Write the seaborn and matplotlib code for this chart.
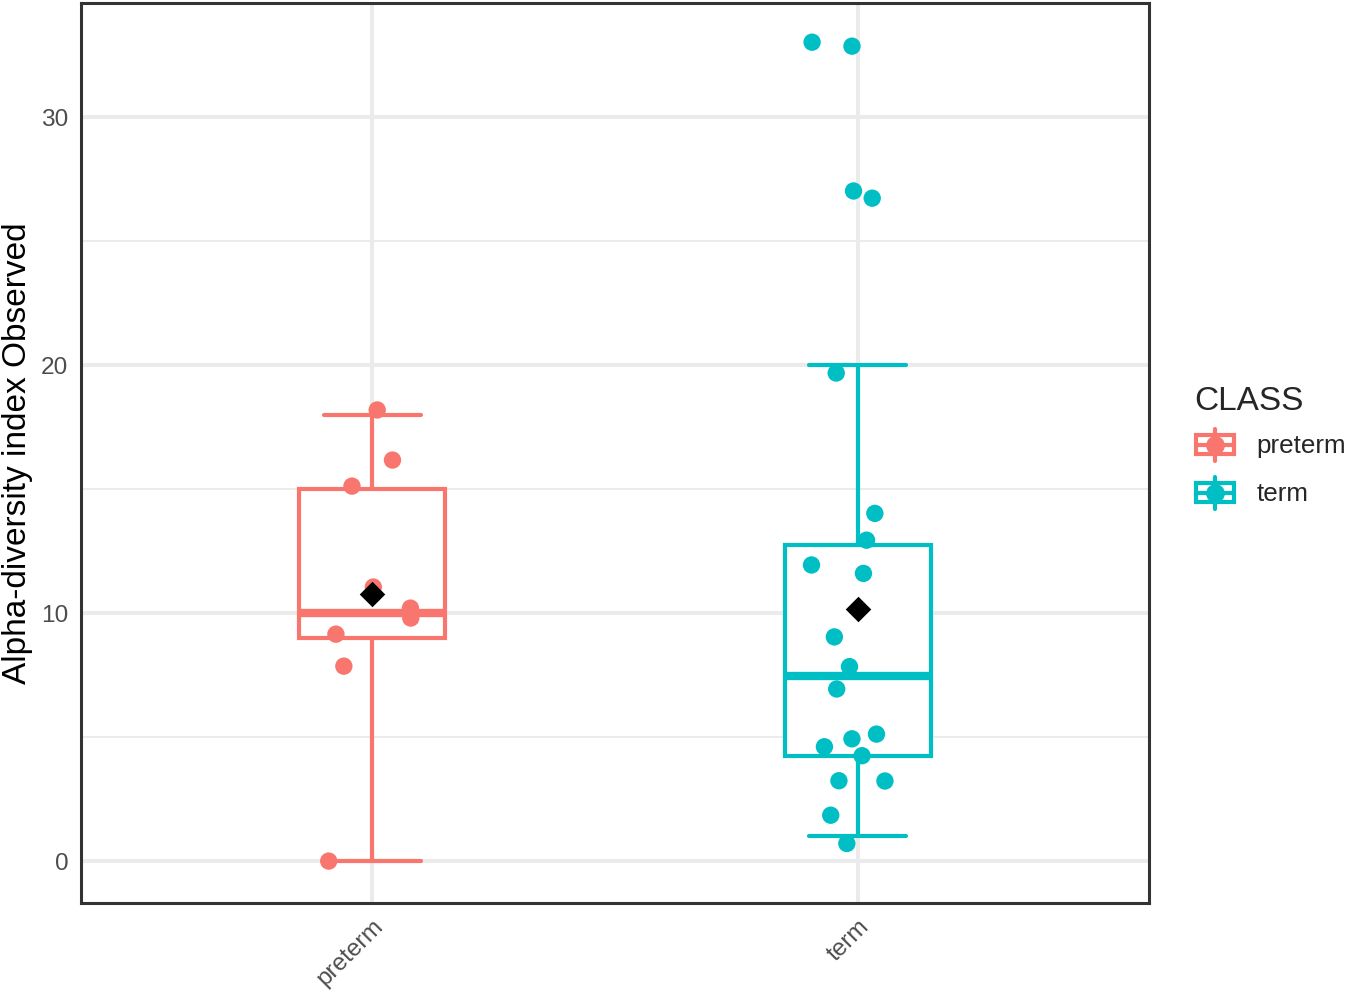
import matplotlib
matplotlib.use("Agg")
import matplotlib.pyplot as plt
from matplotlib.legend_handler import HandlerBase
from matplotlib.patches import Rectangle
from matplotlib.lines import Line2D
import numpy as np
import seaborn as sns
import pandas as pd

# values
classes = ["preterm", "term"]
preterm_obs = [18.19, 16.17, 15.12, 11.05, 10.2, 9.8, 9.15, 7.86, 0.0]
term_obs = [32.86, 33.02, 27.02, 26.73, 19.68, 14.02, 12.94, 11.94, 11.6, 9.04,
            7.84, 6.94, 5.12, 4.93, 4.61, 4.25, 3.23, 3.24, 1.85, 0.71]

# box summaries as drawn
whisker_low = [0.0, 1.0]
q1 = [9.0, 4.23]
median = [10.0, 7.46]
q3 = [15.0, 12.76]
whisker_high = [18.0, 20.0]
means = [10.77, 10.15]

colors = {"preterm": "#F8766D", "term": "#00BFC4"}

df = pd.DataFrame({
    "CLASS": ["preterm"] * len(preterm_obs) + ["term"] * len(term_obs),
    "Observed": preterm_obs + term_obs,
})

sns.set_style("white")
plt.rcParams["font.family"] = ["Liberation Sans", "DejaVu Sans"]
np.random.seed(3)

fig = plt.figure(figsize=(13.46, 9.94), dpi=100)
ax = fig.add_axes([81 / 1346, 91 / 994, 1068 / 1346, 900 / 994])

stats = []
for i, c in enumerate(classes):
    stats.append({"label": c, "whislo": whisker_low[i], "q1": q1[i],
                  "med": median[i], "q3": q3[i], "whishi": whisker_high[i],
                  "fliers": []})

lw = 3.0
for i, c in enumerate(classes):
    col = colors[c]
    ax.bxp([stats[i]], positions=[i], widths=0.3, capwidths=0.2,
           showfliers=False, patch_artist=True, manage_ticks=False,
           boxprops=dict(facecolor="white", edgecolor=col, lw=lw),
           medianprops=dict(color=col, lw=lw * 2, solid_capstyle="butt"),
           whiskerprops=dict(color=col, lw=lw),
           capprops=dict(color=col, lw=lw),
           zorder=2)

sns.stripplot(data=df, x="CLASS", y="Observed", hue="CLASS", order=classes,
              hue_order=classes, palette=colors, jitter=0.1, size=12.5,
              linewidth=0, legend=False, ax=ax, zorder=3)

sns.stripplot(x=classes, y=means, order=classes, jitter=False, marker="D",
              color="black", size=13, linewidth=0, ax=ax, zorder=4)

ax.set_xlim(-0.6, 1.6)
ax.set_ylim(-1.69, 34.6)
ax.set_yticks([0, 10, 20, 30])
ax.set_yticks([5, 15, 25], minor=True)
ax.set_xticks([0, 1])
ax.set_xticklabels(classes, rotation=45, ha="right", va="top",
                   rotation_mode="anchor")

# grid like theme_bw (set after seaborn, which switches the x grid off)
ax.set_axisbelow(True)
ax.grid(True, which="major", axis="both", color="#EBEBEB", lw=2.9)
ax.grid(True, which="minor", axis="y", color="#EBEBEB", lw=1.4)

ax.tick_params(axis="both", which="major", direction="out", length=5,
               width=2.2, color="#333333", labelsize=17.6,
               labelcolor="#4D4D4D", pad=4)
ax.tick_params(axis="y", which="minor", length=0)
for s in ax.spines.values():
    s.set_color("#333333")
    s.set_linewidth(2.2)
ax.set_xlabel("")
ax.set_ylabel("Alpha-diversity index Observed", fontsize=24, color="black",
              labelpad=6)


class BoxKey(HandlerBase):
    def create_artists(self, legend, orig_handle, xdescent, ydescent, width,
                       height, fontsize, trans):
        col = orig_handle.get_color()
        x0, y0 = -xdescent, -ydescent
        cx, cy = x0 + width / 2, y0 + height / 2
        rect = Rectangle((x0 + 0.04 * width, y0 + 0.26 * height),
                         0.92 * width, 0.48 * height, facecolor="white",
                         edgecolor=col, lw=lw, transform=trans)
        wl = Line2D([cx, cx], [y0 + 0.1 * height, y0 + 0.9 * height],
                    color=col, lw=lw, transform=trans)
        md = Line2D([x0 + 0.04 * width, x0 + 0.96 * width], [cy, cy],
                    color=col, lw=lw, transform=trans)
        dot = Line2D([cx], [cy], marker="o", markersize=12.5, color=col,
                     lw=0, transform=trans)
        return [wl, rect, md, dot]


handles = [Line2D([], [], color=colors[c]) for c in classes]
leg = fig.legend(handles, classes, handler_map={Line2D: BoxKey()},
                 title="CLASS", loc="upper left",
                 bbox_to_anchor=(1194 / 1346, 1 - 386 / 994), frameon=False,
                 fontsize=18.7, title_fontsize=24, handlelength=1.6,
                 handleheight=2.0, handletextpad=0.8, labelspacing=0.3,
                 borderpad=0, borderaxespad=0, alignment="left")

plt.savefig("out.png", dpi=100)
